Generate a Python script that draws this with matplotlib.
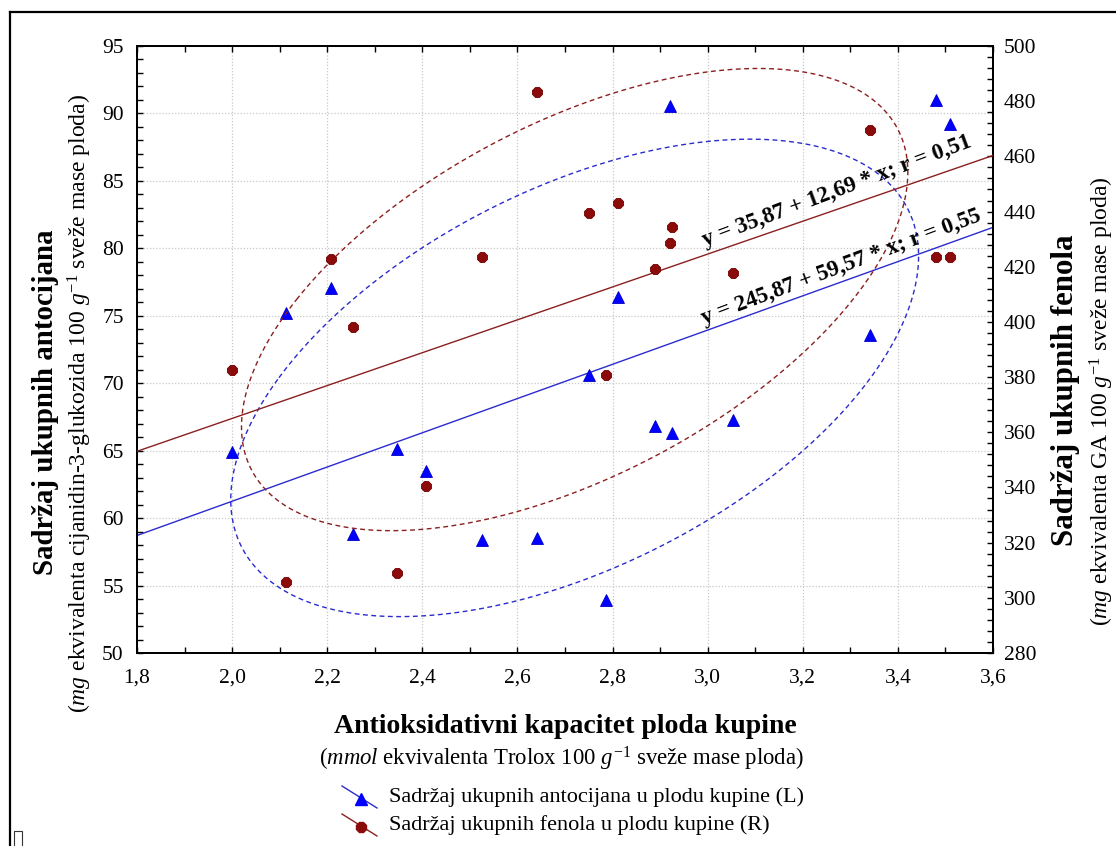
import numpy as np
import matplotlib
matplotlib.use("Agg")
import matplotlib.pyplot as plt
from matplotlib.lines import Line2D
from matplotlib.patches import Rectangle
from matplotlib.ticker import FixedLocator, MultipleLocator

plt.rcParams['font.family'] = ['Liberation Serif', 'DejaVu Serif']
plt.rcParams['mathtext.fontset'] = 'custom'
plt.rcParams['mathtext.rm'] = 'Liberation Serif'
plt.rcParams['mathtext.it'] = 'Liberation Serif:italic'
plt.rcParams['mathtext.bf'] = 'Liberation Serif:bold'

# ---------------- data ----------------
antiox = [2.000, 2.114, 2.207, 2.254, 2.347, 2.407, 2.526, 2.641, 2.751,
          2.786, 2.811, 2.889, 2.920, 2.926, 3.054, 3.342, 3.481, 3.510]
antocijani = [64.90, 75.22, 77.03, 58.85, 65.16, 63.47, 58.40, 58.52, 70.59,
              53.90, 76.40, 66.81, 90.55, 66.31, 67.26, 73.54, 90.99, 89.21]
fenoli = [382.6, 305.6, 422.7, 398.3, 308.9, 340.6, 423.6, 483.4, 439.4,
          380.8, 443.1, 419.3, 428.5, 434.5, 417.6, 469.6, 423.6, 423.6]

# regression equations (intercept, slope)
reg_left = (35.87, 12.69)     # left axis (antocijani)
reg_right = (245.87, 59.57)   # right axis (fenoli)
eq_labels = ["y = 35,87 + 12,69 * x; r = 0,51",
             "y = 245,87 + 59,57 * x; r = 0,55"]

x_ticks = [1.8, 2.0, 2.2, 2.4, 2.6, 2.8, 3.0, 3.2, 3.4, 3.6]
x_tick_labels = ["1,8", "2,0", "2,2", "2,4", "2,6", "2,8", "3,0", "3,2", "3,4", "3,6"]
left_ticks = [50, 55, 60, 65, 70, 75, 80, 85, 90, 95]
right_ticks = [280, 300, 320, 340, 360, 380, 400, 420, 440, 460, 480, 500]

legend_labels = ["Sadržaj ukupnih antocijana u plodu kupine (L)",
                 "Sadržaj ukupnih fenola u plodu kupine (R)"]
xlabel_main = "Antioksidativni kapacitet ploda kupine"
xlabel_sub = r"($\mathit{mmol}$ ekvivalenta Trolox 100 $\mathit{g}^{\mathrm{-1}}$ sveže mase ploda)"
ylabel_left_main = "Sadržaj ukupnih antocijana"
ylabel_left_sub = r"($\mathit{mg}$ ekvivalenta cijanidin-3-glukozida 100 $\mathit{g}^{\mathrm{-1}}$ sveže mase ploda)"
ylabel_right_main = "Sadržaj ukupnih fenola"
ylabel_right_sub = r"($\mathit{mg}$ ekvivalenta GA 100 $\mathit{g}^{\mathrm{-1}}$ sveže mase ploda)"

# ---------------- styles ----------------
BLUE = '#0000ff'
BLUE_LINE = '#2b2bcf'
RED = '#8b0a0a'
RED_LINE = '#8b1f1f'
W, H = 1116, 846


def fx(px):
    return px / W


def fy(py):
    return 1 - py / H


def conf_ellipse(x, y, kx, ky, n=240):
    x = np.asarray(x, float)
    y = np.asarray(y, float)
    cov = np.cov(x, y)
    vals, vecs = np.linalg.eigh(cov)
    t = np.linspace(0, 2 * np.pi, n)
    circ = np.vstack([np.cos(t), np.sin(t)])
    pts = vecs @ (np.sqrt(vals)[:, None] * circ)
    return x.mean() + kx * pts[0], y.mean() + ky * pts[1]


fig = plt.figure(figsize=(W / 100, H / 100), dpi=100)
fig.patch.set_facecolor('white')

ax = fig.add_axes([fx(137), fy(653), fx(993 - 137), (653 - 46) / H])
ax2 = ax.twinx()

ax.set_xlim(1.8, 3.6)
ax.set_ylim(50, 95)
ax2.set_ylim(280, 500)

# grid
ax.set_axisbelow(True)
ax.grid(True, which='major', color='#c8c8c8', linestyle=(0, (1, 1.5)), linewidth=0.9)

# ticks
tick_len = 4.0
ax.xaxis.set_major_locator(FixedLocator(x_ticks))
ax.set_xticklabels(x_tick_labels)
ax.xaxis.set_minor_locator(MultipleLocator(0.1))
ax.yaxis.set_major_locator(FixedLocator(left_ticks))
ax.set_yticklabels([str(v) for v in left_ticks])
ax.yaxis.set_minor_locator(MultipleLocator(1))
ax2.yaxis.set_major_locator(FixedLocator(right_ticks))
ax2.set_yticklabels([str(v) for v in right_ticks])
ax2.yaxis.set_minor_locator(MultipleLocator(4))

ax.tick_params(axis='x', which='both', direction='in', top=True, bottom=True,
               length=tick_len, width=1.0, labelsize=15.5, pad=11)
ax.tick_params(axis='y', which='both', direction='in', left=True, right=False,
               length=tick_len, width=1.0, labelsize=15.5, pad=9.5)
ax2.tick_params(axis='y', which='both', direction='in', right=True, left=False,
                length=tick_len, width=1.0, labelsize=15.5, pad=8)
for a in (ax, ax2):
    for s in a.spines.values():
        s.set_linewidth(1.4)
        s.set_color('black')

# regression lines
xs = np.array([1.8, 3.6])
ax.plot(xs, reg_left[0] + reg_left[1] * xs, color=BLUE_LINE, lw=1.0, zorder=3)
ax2.plot(xs, reg_right[0] + reg_right[1] * xs, color=RED_LINE, lw=1.0, zorder=3)

# ellipses
ex, ey = conf_ellipse(antiox, antocijani, 1.6, 1.58)
ax.plot(ex, ey, color=BLUE_LINE, lw=1.0, linestyle=(0, (3.5, 2.5)), zorder=3)
ex2, ey2 = conf_ellipse(antiox, fenoli, 1.55, 1.72)
ax2.plot(ex2, ey2, color=RED_LINE, lw=1.0, linestyle=(0, (3.5, 2.5)), zorder=3)

# points
ax.plot(antiox, antocijani, linestyle='none', marker='^', markersize=8.5,
        color=BLUE, markeredgecolor='#0000c8', markeredgewidth=0.6, zorder=5)
ax2.plot(antiox, fenoli, linestyle='none', marker='8', markersize=8,
         color=RED, markeredgecolor='#700000', markeredgewidth=0.6, zorder=5)
ax2.set_zorder(ax.get_zorder() + 1)
ax2.patch.set_visible(False)

# equation labels
fig.text(fx(837), fy(191), eq_labels[0], fontsize=16.5, fontweight='bold',
         rotation=20.5, rotation_mode='anchor', ha='center', va='center')
fig.text(fx(841), fy(267), eq_labels[1], fontsize=16.5, fontweight='bold',
         rotation=20.5, rotation_mode='anchor', ha='center', va='center')

# axis titles
fig.text(fx(565), fy(726), xlabel_main, fontsize=20, fontweight='bold',
         ha='center', va='center')
fig.text(fx(561), fy(759), xlabel_sub, fontsize=16.4, ha='center', va='center')
fig.text(fx(46), fy(402), ylabel_left_main, fontsize=20.8, fontweight='bold',
         rotation=90, ha='center', va='center')
fig.text(fx(80), fy(403), ylabel_left_sub, fontsize=17, rotation=90,
         ha='center', va='center')
fig.text(fx(1066), fy(390), ylabel_right_main, fontsize=22.2, fontweight='bold',
         rotation=90, ha='center', va='center')
fig.text(fx(1102), fy(401), ylabel_right_sub, fontsize=17, rotation=90,
         ha='center', va='center')

# overlay for legend and frame (pixel coordinates)
ov = fig.add_axes([0, 0, 1, 1])
ov.set_xlim(0, W)
ov.set_ylim(H, 0)
ov.axis('off')

leg_y = [797, 825]
leg_colors = [(BLUE_LINE, BLUE, '^', 8.5), (RED_LINE, RED, '8', 8)]
for yy, lab, (lc, mc, mk, ms) in zip(leg_y, legend_labels, leg_colors):
    ov.add_line(Line2D([342, 377], [yy - 11, yy + 11], color=lc, lw=1.0))
    ov.plot([361], [yy + 2], marker=mk, color=mc, markersize=ms, linestyle='none')
    ov.text(389, yy, lab, fontsize=16, ha='left', va='center')

# outer frame (cropped) and small box
ov.add_line(Line2D([10, 10], [12, H + 5], color='black', lw=1.6))
ov.add_line(Line2D([10, W + 5], [12, 12], color='black', lw=1.6))
ov.add_patch(Rectangle((13.5, 831), 8, 20, fill=False, edgecolor='#333333', lw=0.8))

fig.savefig('out.png', dpi=100, facecolor='white')
